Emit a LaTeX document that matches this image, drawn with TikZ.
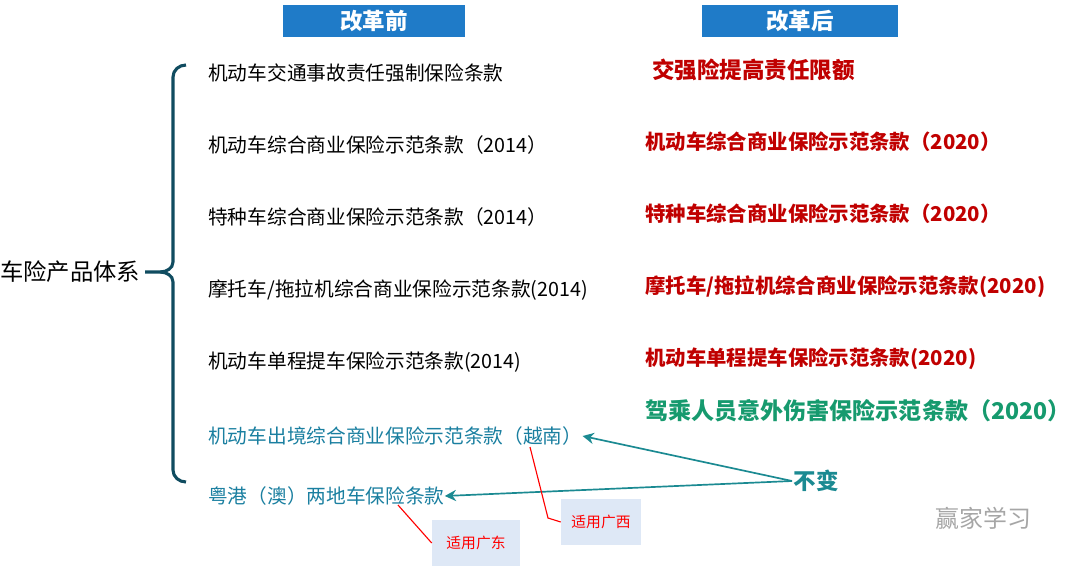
\documentclass[tikz,border=0pt]{standalone}
\usepackage{fontspec}
\setmainfont{Noto Sans CJK SC}
\usetikzlibrary{positioning, arrows.meta}
\definecolor{hdblue}{HTML}{1F7BC8}
\definecolor{tealc}{HTML}{1A7FA0}
\definecolor{arrowc}{HTML}{1B8A92}
\definecolor{darkred}{HTML}{C00000}
\definecolor{greenc}{HTML}{169A6E}
\definecolor{notefill}{HTML}{DEE8F6}
\begin{document}
\begin{tikzpicture}[x=0.025cm, y=-0.025cm]
	\tikzstyle{header} = [rectangle, fill=hdblue, text=white, font=\bfseries\fontsize{16}{18}\selectfont, minimum width=4.55cm, minimum height=0.82cm, inner sep=0pt]
	\tikzstyle{old} = [anchor=west, font=\fontsize{14}{16}\selectfont, inner sep=0pt]
	\tikzstyle{new} = [anchor=west, text=darkred, font=\bfseries\fontsize{14.5}{16}\selectfont, inner sep=0pt]
	\tikzstyle{note} = [rectangle, fill=notefill, text=red, font=\fontsize{10.5}{12}\selectfont, minimum width=2cm, minimum height=1.15cm, inner sep=0pt]
	\tikzstyle{arrow} = [very thick, arrowc, -{Stealth[length=8pt, width=8pt]}]
	\useasboundingbox (0,0) rectangle (1080,566);
	% headers
	\node (before) [header] at (374,21) {改革前};
	\node (after) [header, minimum width=4.9cm] at (800,21) {改革后};
	% brace
	\draw [line width=2.2pt, tealc!60!black] (186,65) to[out=180,in=90] (173,77) -- (173,262) to[out=-90,in=0] (160,272) -- (145,272);
	\draw [line width=2.2pt, tealc!60!black] (160,272) to[out=0,in=90] (173,282) -- (173,470) to[out=-90,in=180] (186,482);
	\node (system) [anchor=west, inner sep=0pt, font=\fontsize{16.6}{18}\selectfont] at (0,272) {车险产品体系};
	% before
	\node (old1) [old] at (208,73) {机动车交通事故责任强制保险条款};
	\node (old2) [old] at (208,145) {机动车综合商业保险示范条款（2014）};
	\node (old3) [old] at (208,217) {特种车综合商业保险示范条款（2014）};
	\node (old4) [old] at (208,290) {摩托车/拖拉机综合商业保险示范条款(2014)};
	\node (old5) [old] at (208,362) {机动车单程提车保险示范条款(2014)};
	\node (old6) [old, text=tealc] at (208,436) {机动车出境综合商业保险示范条款（越南）};
	\node (old7) [old, text=tealc] at (208,496) {粤港（澳）两地车保险条款};
	% after
	\node (new1) [new, font=\bfseries\fontsize{16}{18}\selectfont] at (652,70) {交强险提高责任限额};
	\node (new2) [new] at (645,142) {机动车综合商业保险示范条款（2020）};
	\node (new3) [new] at (645,214) {特种车综合商业保险示范条款（2020）};
	\node (new4) [new] at (645,287) {摩托车/拖拉机综合商业保险示范条款(2020)};
	\node (new5) [new] at (645,359) {机动车单程提车保险示范条款(2020)};
	\node (new6) [new, text=greenc, font=\bfseries\fontsize{16.4}{18}\selectfont] at (645,411) {驾乘人员意外伤害保险示范条款（2020）};
	\node (same) [anchor=west, inner sep=1pt, text=arrowc, font=\bfseries\fontsize{16}{18}\selectfont] at (792,481) {不变};
	\draw [arrow] (same.west) -- (old6.east);
	\draw [arrow] (same.west) -- (old7.east);
	% notes
	\node (gx) [note] at (601,522) {适用广西};
	\node (gd) [note, minimum width=2.2cm] at (476,543) {适用广东};
	\coordinate (vn) at (530,447);
	\coordinate (hk) at (398,505);
	\draw [red, thick] (vn) -- (548,518) -- (gx.west);
	\draw [red, thick] (hk) -- (gd.west);
	% watermark
	\node (mark) [anchor=west, text=gray!70, font=\fontsize{17}{19}\selectfont, inner sep=0pt] at (935,518) {赢家学习};
\end{tikzpicture}
\end{document}
